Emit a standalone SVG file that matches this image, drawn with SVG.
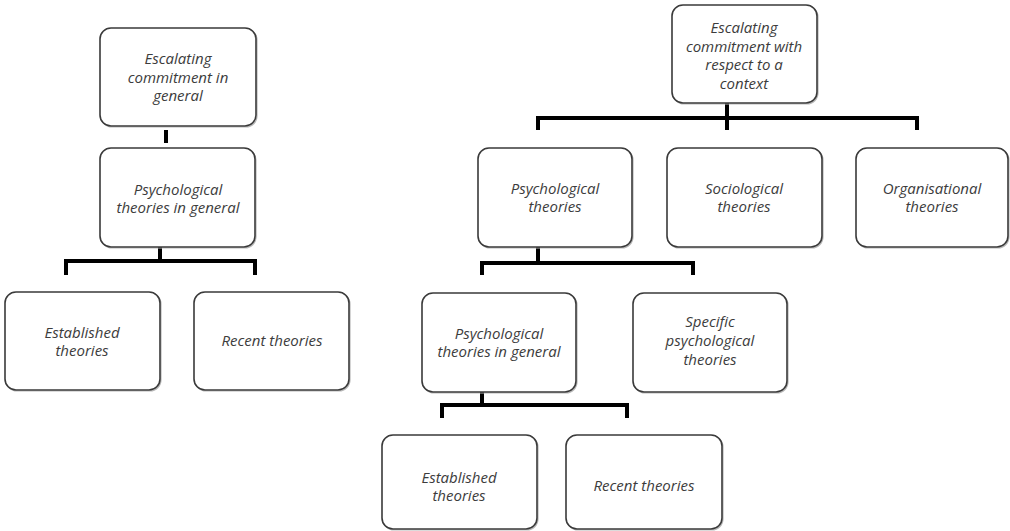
<svg xmlns="http://www.w3.org/2000/svg" width="1010" height="531" viewBox="0 0 1010 531">
  <style>
    .box { fill: #ffffff; stroke: #3a3a3a; stroke-width: 1.6; }
    .shadow { fill: none; stroke: #b8b8b8; stroke-width: 1.2; }
    .lbl { font-family: "Open Sans", "DejaVu Sans", sans-serif; font-style: italic; font-size: 15px; fill: #3c3c3c; text-anchor: middle; }
    .conn { fill: none; stroke: #000000; stroke-width: 4; stroke-linejoin: miter; stroke-linecap: butt; }
    .ghost { fill: none; stroke: #e4e4e4; stroke-width: 3; }
  </style>
  <rect width="1010" height="531" fill="#ffffff"/>

  <g id="connectors">
    <!-- left tree -->
    <line class="conn" x1="166" y1="130" x2="166" y2="143"/>
    <line class="ghost" x1="160" y1="232" x2="160" y2="246"/>
    <polyline class="conn" points="66,275 66,261 255,261 255,275"/>
    <line class="conn" x1="160" y1="247" x2="160" y2="261"/>
    <!-- right tree top -->
    <line class="ghost" x1="727" y1="89" x2="727" y2="102"/>
    <polyline class="conn" points="538,130 538,118 917,118 917,130"/>
    <line class="conn" x1="727" y1="103" x2="727" y2="130"/>
    <!-- right tree middle -->
    <line class="ghost" x1="538" y1="232" x2="538" y2="246"/>
    <polyline class="conn" points="482,275 482,263 693,263 693,275"/>
    <line class="conn" x1="538" y1="247" x2="538" y2="263"/>
    <!-- right tree bottom -->
    <line class="ghost" x1="482" y1="377" x2="482" y2="391"/>
    <polyline class="conn" points="442,418 442,405 627,405 627,418"/>
    <line class="conn" x1="482" y1="392" x2="482" y2="405"/>
  </g>

  <g id="n-esc-general">
    <rect class="shadow" x="101" y="29" width="156" height="98" rx="11"/>
    <rect class="box" x="100" y="28" width="156" height="98" rx="11"/>
    <text class="lbl" x="178" y="64">Escalating</text>
    <text class="lbl" x="178" y="83">commitment in</text>
    <text class="lbl" x="178" y="101">general</text>
  </g>

  <g id="n-psy-general-left">
    <rect class="shadow" x="101" y="149" width="155" height="99" rx="11"/>
    <rect class="box" x="100" y="148" width="155" height="99" rx="11"/>
    <text class="lbl" x="178" y="195">Psychological</text>
    <text class="lbl" x="178" y="213">theories in general</text>
  </g>

  <g id="n-established-left">
    <rect class="shadow" x="6" y="293" width="155" height="98" rx="11"/>
    <rect class="box" x="5" y="292" width="155" height="98" rx="11"/>
    <text class="lbl" x="82" y="338">Established</text>
    <text class="lbl" x="82" y="356">theories</text>
  </g>

  <g id="n-recent-left">
    <rect class="shadow" x="195" y="293" width="155" height="98" rx="11"/>
    <rect class="box" x="194" y="292" width="155" height="98" rx="11"/>
    <text class="lbl" x="272" y="346">Recent theories</text>
  </g>

  <g id="n-esc-context">
    <rect class="shadow" x="673" y="6" width="145" height="98" rx="11"/>
    <rect class="box" x="672" y="5" width="145" height="98" rx="11"/>
    <text class="lbl" x="744" y="33">Escalating</text>
    <text class="lbl" x="744" y="51.5">commitment with</text>
    <text class="lbl" x="744" y="70">respect to a</text>
    <text class="lbl" x="744" y="88.5">context</text>
  </g>

  <g id="n-psy">
    <rect class="shadow" x="479" y="149" width="154" height="99" rx="11"/>
    <rect class="box" x="478" y="148" width="154" height="99" rx="11"/>
    <text class="lbl" x="555" y="194">Psychological</text>
    <text class="lbl" x="555" y="212">theories</text>
  </g>

  <g id="n-soc">
    <rect class="shadow" x="668" y="149" width="155" height="99" rx="11"/>
    <rect class="box" x="667" y="148" width="155" height="99" rx="11"/>
    <text class="lbl" x="744" y="194">Sociological</text>
    <text class="lbl" x="744" y="212">theories</text>
  </g>

  <g id="n-org">
    <rect class="shadow" x="857" y="149" width="152" height="99" rx="11"/>
    <rect class="box" x="856" y="148" width="152" height="99" rx="11"/>
    <text class="lbl" x="932" y="194">Organisational</text>
    <text class="lbl" x="932" y="212">theories</text>
  </g>

  <g id="n-psy-general-right">
    <rect class="shadow" x="423" y="294" width="154" height="99" rx="11"/>
    <rect class="box" x="422" y="293" width="154" height="99" rx="11"/>
    <text class="lbl" x="499" y="339">Psychological</text>
    <text class="lbl" x="499" y="357">theories in general</text>
  </g>

  <g id="n-specific">
    <rect class="shadow" x="634" y="294" width="154" height="99" rx="11"/>
    <rect class="box" x="633" y="293" width="154" height="99" rx="11"/>
    <text class="lbl" x="710" y="327">Specific</text>
    <text class="lbl" x="710" y="346">psychological</text>
    <text class="lbl" x="710" y="365">theories</text>
  </g>

  <g id="n-established-right">
    <rect class="shadow" x="383" y="436" width="155" height="94" rx="11"/>
    <rect class="box" x="382" y="435" width="155" height="94" rx="11"/>
    <text class="lbl" x="459" y="483">Established</text>
    <text class="lbl" x="459" y="501">theories</text>
  </g>

  <g id="n-recent-right">
    <rect class="shadow" x="567" y="436" width="156" height="94" rx="11"/>
    <rect class="box" x="566" y="435" width="156" height="94" rx="11"/>
    <text class="lbl" x="644" y="491">Recent theories</text>
  </g>
</svg>
